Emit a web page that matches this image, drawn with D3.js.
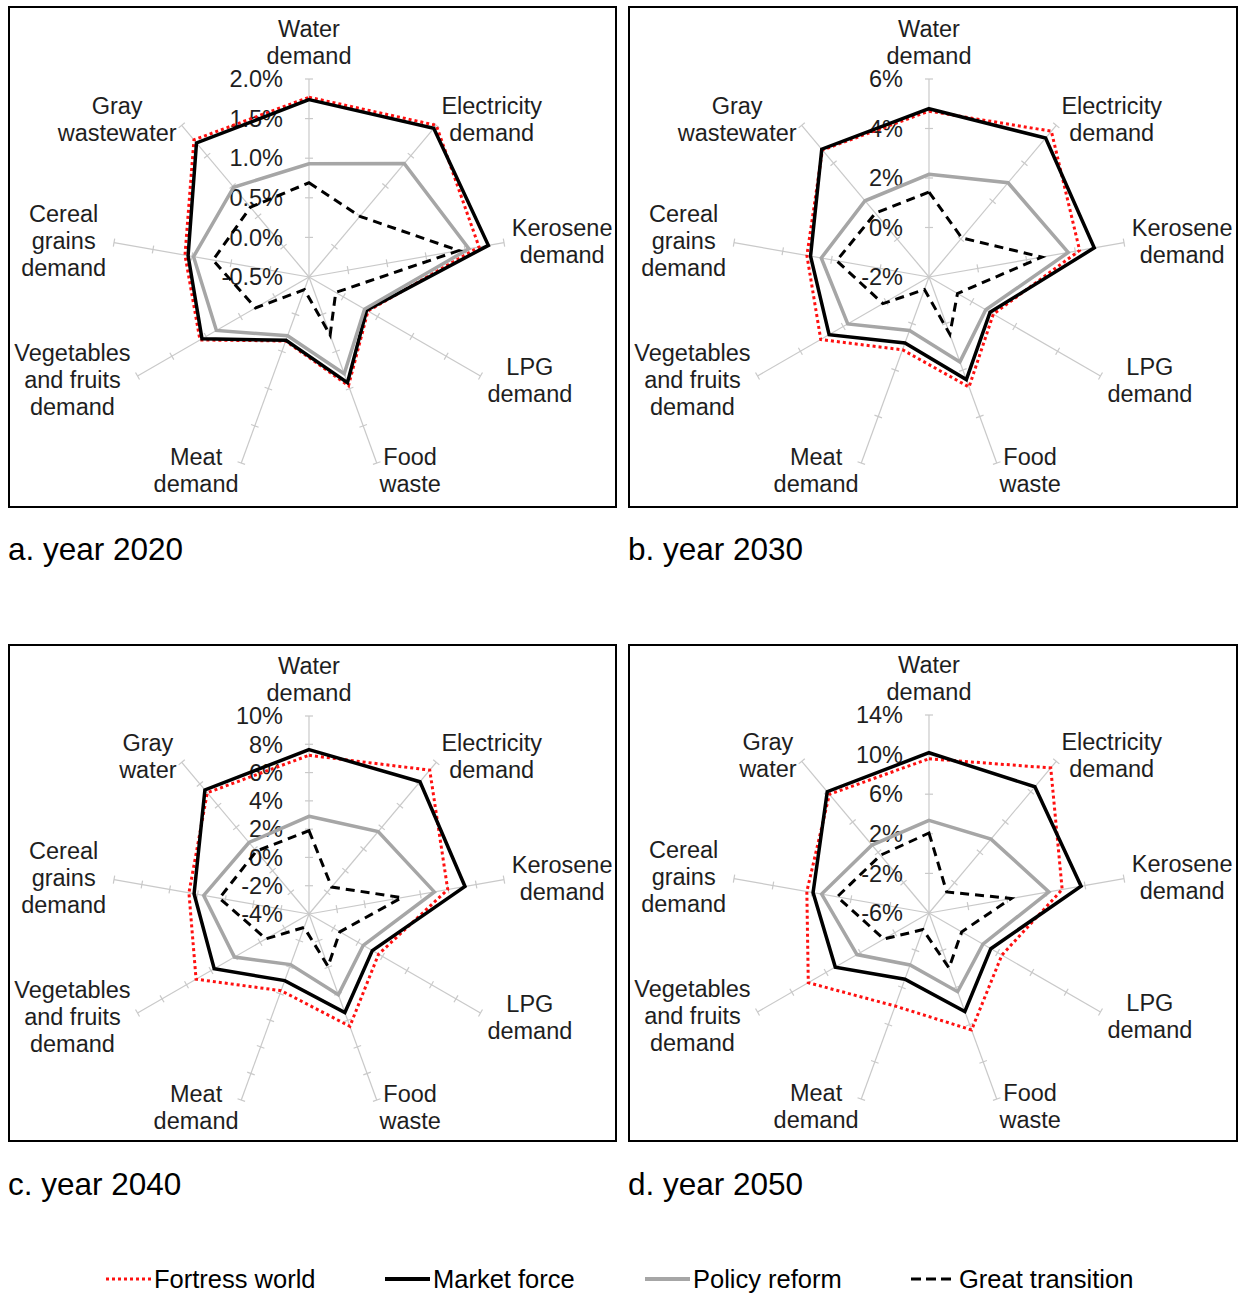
<!DOCTYPE html>
<html><head><meta charset="utf-8">
<script src="https://cdn.jsdelivr.net/npm/d3@7"></script>
<style>
body{margin:0;background:#fff}
svg{display:block}
text{font-family:"Liberation Sans",Arial,Helvetica,sans-serif}
</style>
</head><body>
<svg id="chart" width="1240" height="1294"></svg>
<script>
// ---------- data ----------
const categoriesAB = ["Water\ndemand","Electricity\ndemand","Kerosene\ndemand","LPG\ndemand","Food\nwaste","Meat\ndemand","Vegetables\nand fruits\ndemand","Cereal\ngrains\ndemand","Gray\nwastewater"];
const categoriesCD = ["Water\ndemand","Electricity\ndemand","Kerosene\ndemand","LPG\ndemand","Food\nwaste","Meat\ndemand","Vegetables\nand fruits\ndemand","Cereal\ngrains\ndemand","Gray\nwater"];
const seriesNames = ["Fortress world","Market force","Policy reform","Great transition"];
const captions = ["a. year 2020","b. year 2030","c. year 2040","d. year 2050"];

// values in %
const fortress2020 = [1.77, 2.00, 1.68, 0.36, 0.96, 0.36, 1.09, 1.09, 1.76];
const market2020   = [1.74, 1.95, 1.80, 0.34, 0.92, 0.35, 1.06, 1.05, 1.71];
const policy2020   = [0.93, 1.37, 1.55, 0.31, 0.80, 0.29, 0.85, 0.98, 0.98];
const great2020    = [0.69, 0.50, 1.42, -0.11, 0.28, -0.33, 0.28, 0.73, 0.65];

const fortress2030 = [4.70, 5.69, 4.18, 1.00, 2.73, 1.13, 3.05, 3.01, 4.70];
const market2030   = [4.80, 5.33, 4.78, 0.85, 2.41, 0.84, 2.66, 2.86, 4.74];
const policy2030   = [2.15, 2.97, 3.71, 0.65, 1.65, 0.30, 1.79, 2.42, 2.02];
const great2030    = [1.43, 0.06, 2.63, -0.67, 0.46, -1.46, 0.15, 1.79, 1.37];

const fortress2040 = [7.22, 9.28, 5.96, 1.68, 4.45, 1.77, 5.22, 4.62, 7.19];
const market2040   = [7.62, 8.21, 7.20, 1.17, 3.41, 1.01, 3.74, 4.25, 7.45];
const policy2040   = [2.91, 3.61, 5.00, 0.43, 2.07, -0.19, 2.09, 3.56, 2.60];
const great2040    = [1.89, -1.51, 2.67, -1.48, -0.06, -2.99, -0.49, 2.43, 1.80];

const fortress2050 = [9.58, 13.13, 7.66, 2.50, 6.57, 4.00, 8.08, 6.53, 9.65];
const market2050   = [10.19, 10.64, 9.60, 1.21, 4.59, 1.12, 4.93, 5.89, 9.99];
const policy2050   = [3.36, 3.74, 6.30, 0.29, 2.46, -0.41, 2.40, 5.01, 2.96];
const great2050    = [2.08, -3.22, 2.43, -2.19, -0.09, -4.22, -0.74, 3.41, 1.62];

const ticks2020 = [-0.5, 0, 0.5, 1.0, 1.5, 2.0];
const tickLabels2020 = ["-0.5%","0.0%","0.5%","1.0%","1.5%","2.0%"];
const ticks2030 = [-2, 0, 2, 4, 6];
const tickLabels2030 = ["-2%","0%","2%","4%","6%"];
const ticks2040 = [-4, -2, 0, 2, 4, 6, 8, 10];
const tickLabels2040 = ["-4%","-2%","0%","2%","4%","6%","8%","10%"];
const ticks2050 = [-6, -2, 2, 6, 10, 14];
const tickLabels2050 = ["-6%","-2%","2%","6%","10%","14%"];

// ---------- layout / style ----------
const panels = [
  {box:[9,7,607,500],   cy:270, cats:categoriesAB, ticks:ticks2020, tl:tickLabels2020, data:[fortress2020,market2020,policy2020,great2020], cap:captions[0], capXY:[8,549]},
  {box:[629,7,608,500], cy:270, cats:categoriesAB, ticks:ticks2030, tl:tickLabels2030, data:[fortress2030,market2030,policy2030,great2030], cap:captions[1], capXY:[628,549]},
  {box:[9,645,607,496], cy:269, cats:categoriesCD, ticks:ticks2040, tl:tickLabels2040, data:[fortress2040,market2040,policy2040,great2040], cap:captions[2], capXY:[8,1184]},
  {box:[629,645,608,496], cy:268, cats:categoriesCD, ticks:ticks2050, tl:tickLabels2050, data:[fortress2050,market2050,policy2050,great2050], cap:captions[3], capXY:[628,1184]}
];
const styles = [
  {color:"#ff1010", width:3,   dash:"3,3"},
  {color:"#000000", width:3.5, dash:null},
  {color:"#a6a6a6", width:3.5, dash:null},
  {color:"#000000", width:3,   dash:"9,6"}
];
const R = 198, N = 9, FS = 23.5, LH = 27;
const axisColor = "#c9c9c9", textColor = "#1e1e1e";

const svg = d3.select("#chart");
svg.append("rect").attr("width",1240).attr("height",1294).attr("fill","#fff");

panels.forEach(p => {
  const [bx,by,bw,bh] = p.box;
  const cx = bx + 300, cy = by + p.cy;
  svg.append("rect").attr("x",bx).attr("y",by).attr("width",bw).attr("height",bh)
    .attr("fill","none").attr("stroke","#000").attr("stroke-width",2);
  const g = svg.append("g").attr("transform",`translate(${cx},${cy})`);
  const r = d3.scaleLinear().domain(d3.extent(p.ticks)).range([0,R]);
  const ang = i => i * 2 * Math.PI / N;

  // spokes and ticks
  p.cats.forEach((c,i) => {
    const a = ang(i), dx = Math.sin(a), dy = -Math.cos(a);
    const px = Math.cos(a), py = Math.sin(a);
    g.append("line").attr("x1",0).attr("y1",0).attr("x2",dx*R).attr("y2",dy*R)
      .attr("stroke",axisColor).attr("stroke-width",1.2);
    p.ticks.slice(1).forEach(t => {
      const rr = r(t);
      g.append("line")
        .attr("x1",dx*rr - px*4).attr("y1",dy*rr - py*4)
        .attr("x2",dx*rr + px*4).attr("y2",dy*rr + py*4)
        .attr("stroke",axisColor).attr("stroke-width",1.2);
    });
  });

  // category labels
  p.cats.forEach((c,i) => {
    const a = ang(i), dx = Math.sin(a), dy = -Math.cos(a);
    const lines = c.split("\n");
    const t = g.append("text").attr("font-size",FS).attr("fill",textColor).attr("text-anchor","middle");
    const tsp = lines.map((ln,k) => t.append("tspan").text(ln));
    const w = d3.max(tsp, s => s.node().getComputedTextLength());
    const h = lines.length * LH;
    const Px = dx*(R+8), Py = dy*(R+8);
    let mx, my;
    if (Math.abs(dx) < 0.01) { mx = Px; my = Py - h/2 - 2; }
    else { mx = Px + Math.sign(dx)*w/2; my = Py; }
    tsp.forEach((s,k) => s.attr("x",mx).attr("y", my - h/2 + LH*k + LH/2).attr("dy","0.35em"));
  });

  // radial tick labels
  p.ticks.forEach((t,k) => {
    g.append("text").attr("x",-26).attr("y",-r(t)).attr("dy","0.35em")
      .attr("text-anchor","end").attr("font-size",FS).attr("fill",textColor)
      .text(p.tl[k]);
  });

  // series
  const line = d3.lineRadial().angle((d,i) => ang(i)).radius(d => r(d)).curve(d3.curveLinearClosed);
  p.data.forEach((vals,si) => {
    const st = styles[si];
    g.append("path").attr("d",line(vals)).attr("fill","none")
      .attr("stroke",st.color).attr("stroke-width",st.width)
      .attr("stroke-dasharray",st.dash).attr("stroke-linejoin","miter");
  });

  // caption
  svg.append("text").attr("x",p.capXY[0]).attr("y",p.capXY[1]).attr("dy","0.35em")
    .attr("font-size",31.5).attr("fill","#000").text(p.cap);
});

// legend
const legendX = [106, 385, 645, 911];
const legY = 1279;
seriesNames.forEach((name,i) => {
  const st = styles[i];
  svg.append("line").attr("x1",legendX[i]).attr("x2",legendX[i]+45).attr("y1",legY).attr("y2",legY)
    .attr("stroke",st.color).attr("stroke-width",i===0?3:(i===3?3:4)).attr("stroke-dasharray",i===3?"10,5":st.dash);
  svg.append("text").attr("x",legendX[i]+48).attr("y",legY).attr("dy","0.35em")
    .attr("font-size",25.5).attr("fill","#000").text(name);
});
</script>
</body></html>
